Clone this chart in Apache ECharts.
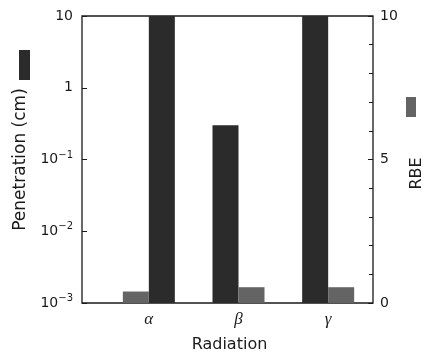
<!DOCTYPE html>
<html><head><meta charset="utf-8">
<script src="https://cdn.jsdelivr.net/npm/echarts@6/dist/echarts.min.js"></script>
<style>html,body{margin:0;padding:0;background:#fff}#c{width:425px;height:356px}</style>
</head><body><div id="c"></div>
<script>
// ---- data ----
const categories = ['α', 'β', 'γ'];
const penetration = [10, 0.3, 10];          // cm, left log axis
const rbe = [0.4, 0.55, 0.55];              // right linear axis
const penetrationFirst = [false, true, true]; // which bar is on the left in each group
const penTickLabels = ['10^−3', '10^−2', '10^−1', '1', '10'];
const rbeTickLabels = ['0', '5', '10'];

// ---- build ----
const penL = penetration.map((v, i) => penetrationFirst[i] ? v : '-');
const penR = penetration.map((v, i) => penetrationFirst[i] ? '-' : v);
const rbeL = rbe.map((v, i) => penetrationFirst[i] ? '-' : v);
const rbeR = rbe.map((v, i) => penetrationFirst[i] ? v : '-');

const PEN_COLOR = '#2b2b2b';
const RBE_COLOR = '#646464';
const FONT = 'DejaVu Sans';

function penFmt(v) {
  const e = Math.round(Math.log10(v));
  const s = penTickLabels[e + 3] || '';
  const p = s.split('^');
  return p.length > 1 ? '{b|' + p[0] + '}{s|' + p[1] + '}' : '{b|' + s + '}';
}

const chart = echarts.init(document.getElementById('c'), null, {renderer: 'canvas'});
chart.setOption({
  animation: false,
  backgroundColor: '#fff',
  legend: [
    {data: ['Penetration (cm)'], left: 19, top: 50, orient: 'vertical', itemWidth: 11, itemHeight: 30,
     icon: 'rect', formatter: () => '', selectedMode: false, padding: 0},
    {data: ['RBE'], left: 406, top: 97, orient: 'vertical', itemWidth: 10, itemHeight: 20,
     icon: 'rect', formatter: () => '', selectedMode: false, padding: 0}
  ],
  grid: [
    {left: 82, right: 52, top: 16, bottom: 53, show: true, borderColor: '#1a1a1a', borderWidth: 1.3,
     backgroundColor: 'transparent', containLabel: false, outerBoundsMode: 'none'},
    {left: 104, right: 52, top: 16, bottom: 53, containLabel: false, outerBoundsMode: 'none'}
  ],
  xAxis: [{
    type: 'category', gridIndex: 1, data: categories,
    axisLine: {show: false}, axisTick: {show: false},
    axisLabel: {margin: 8, fontFamily: 'Liberation Serif', fontStyle: 'italic', fontSize: 17, color: '#1a1a1a'},
    name: 'Radiation', nameLocation: 'middle', nameGap: 34,
    nameTextStyle: {fontFamily: FONT, fontSize: 16, color: '#1a1a1a', padding: [0, 18, 0, 0]}
  }],
  yAxis: [{
    type: 'log', logBase: 10, gridIndex: 1, position: 'left', offset: 22,
    min: 0.001, max: 10, startValue: 0.001,
    axisLine: {show: false}, splitLine: {show: false},
    axisTick: {show: true, inside: true, length: 5, lineStyle: {color: '#1a1a1a'}},
    axisLabel: {margin: 9, formatter: penFmt, color: '#1a1a1a',
      rich: {b: {fontFamily: FONT, fontSize: 14, color: '#1a1a1a'},
             s: {fontFamily: FONT, fontSize: 10, color: '#1a1a1a', padding: [0, 0, 9, 0]}}},
    name: 'Penetration (cm)', nameLocation: 'middle', nameGap: 48,
    nameTextStyle: {fontFamily: FONT, fontSize: 17, color: '#1a1a1a'}
  }, {
    type: 'value', gridIndex: 1, position: 'right',
    min: 0, max: 10, interval: 5,
    axisLine: {show: false}, splitLine: {show: false},
    axisTick: {show: true, inside: true, length: 5, lineStyle: {color: '#1a1a1a'}},
    minorTick: {show: true, splitNumber: 5, length: 4, lineStyle: {color: '#1a1a1a'}},
    axisLabel: {margin: 7, fontFamily: FONT, fontSize: 14, color: '#1a1a1a',
      formatter: v => rbeTickLabels[Math.round(v / 5)] || ''},
    name: 'RBE', nameLocation: 'middle', nameGap: 26,
    nameTextStyle: {fontFamily: FONT, fontSize: 16, color: '#1a1a1a', padding: [0, 28, 0, 0]}
  }],
  series: [
    {name: 'Penetration (cm)', type: 'bar', xAxisIndex: 0, yAxisIndex: 0, stack: 'left',
     data: penL, barWidth: 26, barGap: '0%', itemStyle: {color: PEN_COLOR}},
    {name: 'Penetration (cm)', type: 'bar', xAxisIndex: 0, yAxisIndex: 0, stack: 'right',
     data: penR, barWidth: 26, barGap: '0%', itemStyle: {color: PEN_COLOR}},
    {name: 'RBE', type: 'bar', xAxisIndex: 0, yAxisIndex: 1, stack: 'left',
     data: rbeL, barWidth: 26, barGap: '0%', itemStyle: {color: RBE_COLOR}},
    {name: 'RBE', type: 'bar', xAxisIndex: 0, yAxisIndex: 1, stack: 'right',
     data: rbeR, barWidth: 26, barGap: '0%', itemStyle: {color: RBE_COLOR}}
  ]
});
</script></body></html>
